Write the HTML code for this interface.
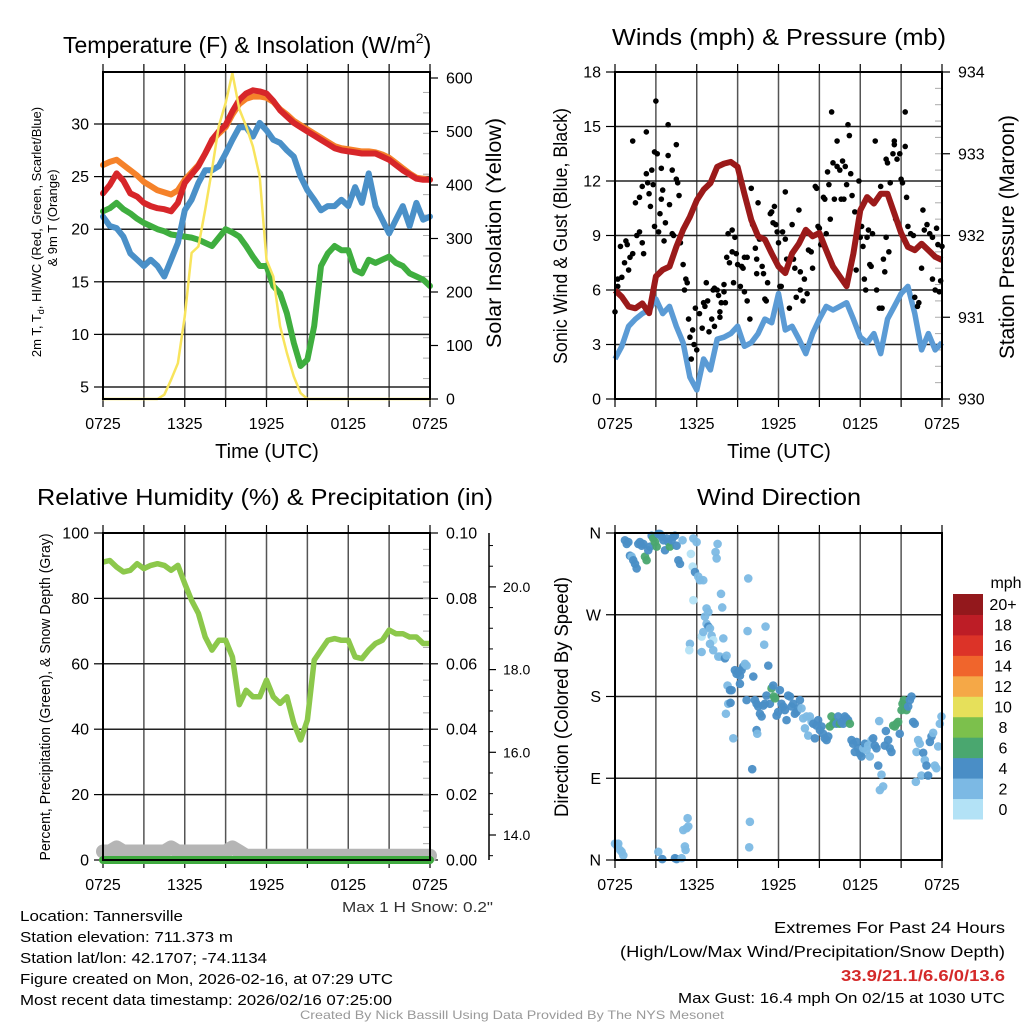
<!DOCTYPE html>
<html><head><meta charset="utf-8"><style>
html,body{margin:0;padding:0;background:#fff}
svg{display:block;font-family:"Liberation Sans",sans-serif}
</style></head><body>
<svg id="fig" width="1024" height="1024" viewBox="0 0 1024 1024" xmlns="http://www.w3.org/2000/svg">
<rect x="0" y="0" width="1024" height="1024" fill="#fff"/>
<g id="p1"></g>
<g id="p2"></g>
<g id="p3"></g>
<g id="p4"></g>
<g id="info">
<text x="20" y="921" font-size="15" textLength="163" lengthAdjust="spacingAndGlyphs">Location: Tannersville</text>
<text x="20" y="942" font-size="15" textLength="213" lengthAdjust="spacingAndGlyphs">Station elevation: 711.373 m</text>
<text x="20" y="963" font-size="15" textLength="247" lengthAdjust="spacingAndGlyphs">Station lat/lon: 42.1707; -74.1134</text>
<text x="20" y="984" font-size="15" textLength="373" lengthAdjust="spacingAndGlyphs">Figure created on Mon, 2026-02-16, at 07:29 UTC</text>
<text x="20" y="1005" font-size="15" textLength="372" lengthAdjust="spacingAndGlyphs">Most recent data timestamp: 2026/02/16 07:25:00</text>
<text x="774" y="933" font-size="16" textLength="231" lengthAdjust="spacingAndGlyphs">Extremes For Past 24 Hours</text>
<text x="620" y="957" font-size="16" textLength="385" lengthAdjust="spacingAndGlyphs">(High/Low/Max Wind/Precipitation/Snow Depth)</text>
<text x="841" y="981" font-size="16" font-weight="bold" fill="#d42a2a" textLength="164" lengthAdjust="spacingAndGlyphs">33.9/21.1/6.6/0/13.6</text>
<text x="678" y="1003" font-size="15" textLength="327" lengthAdjust="spacingAndGlyphs">Max Gust: 16.4 mph On 02/15 at 1030 UTC</text>
<text x="300" y="1019" font-size="12" fill="#999" textLength="424" lengthAdjust="spacingAndGlyphs">Created By Nick Bassill Using Data Provided By The NYS Mesonet</text>
</g>
</svg>
<script>
// ---------- data ----------
const timeLabels = ["0725","1325","1925","0125","0725"];
const hours = [0,0.5,1,1.5,2,2.5,3,3.5,4,4.5,5,5.5,6,6.5,7,7.5,8,8.5,9,9.5,10,10.5,11,11.5,12,12.5,13,13.5,14,14.5,15,15.5,16,16.5,17,17.5,18,18.5,19,19.5,20,20.5,21,21.5,22,22.5,23,23.5,24];
const tempRed = [23.4,24.2,25.3,24.6,23.4,23.1,22.5,22.2,22,21.9,21.7,22.5,24.4,25.2,26,27.2,28.5,29.3,29.9,31.2,32.3,32.9,33.2,33.1,32.9,32.2,31.3,30.7,30.1,29.7,29.3,28.9,28.5,28.1,27.7,27.5,27.4,27.3,27.2,27.2,27.2,26.9,26.6,26.1,25.6,25.2,24.8,24.7,24.7];
const temp9m = [26.1,26.4,26.6,26.1,25.6,25.1,24.5,24.1,23.7,23.5,23.3,23.7,24.7,25.4,26.1,27.2,28.4,29.1,29.7,30.9,31.9,32.4,32.6,32.6,32.5,32.1,31.4,30.9,30.3,29.9,29.5,29.1,28.7,28.3,27.9,27.7,27.6,27.5,27.4,27.4,27.3,27.1,26.8,26.3,25.8,25.3,24.9,24.8,24.7];
const tempDew = [21.2,20.3,20.1,19.3,17.7,17.1,16.5,17.1,16.5,15.5,17.1,18.7,21.8,22.8,24.4,25.6,25.6,26,27.2,28.5,29.7,29.7,28.8,30.1,29.4,28.5,28.2,27.5,26.9,25,23.7,22.8,21.8,22.2,22.2,22.8,22.2,24,22.5,25.3,22.2,20.9,19.6,20.9,22.2,20.3,22.5,20.9,21.2];
const tempHIWC = [21.7,22,22.5,21.9,21.5,21,20.6,20.3,20,19.8,19.5,19.4,19.3,19.2,19,18.7,18.4,19.2,20,19.7,19.3,18.4,17.4,16.5,16.5,14.6,13.9,12,9.2,7,7.6,10.8,16.5,17.7,18.4,18,18,16.1,15.8,17.1,16.8,17.1,17.4,16.8,16.5,15.8,15.5,15.2,14.6];
const insolation = [0,0,0,0,0,0,0,0,0,8,36,67,155,273,285,354,429,510,553,609,542,510,472,416,260,229,136,86,42,11,0,0,0,0,0,0,0,0,0,0,0,0,0,0,0,0,0,0,0];
const tempTicks = [5,10,15,20,25,30];
const solarTicks = [0,100,200,300,400,500,600];

const windSpeed = [2.2,2.9,4,4.4,4.7,4.9,5.5,4.7,5.1,4,3.1,1.2,0.5,2.2,1.6,3.3,3.4,3.6,4,2.9,3.1,3.6,4.4,4.2,5.8,3.8,4,3.3,2.5,3.6,4.4,5.1,4.9,5.1,5.3,4.4,3.4,3.1,3.6,2.5,4.4,5.1,5.8,6.2,4.7,2.7,3.6,2.7,3.1];
const pressure = [931.33,931.25,931.13,931.11,931.17,931.05,931.5,931.58,931.62,931.86,932.07,932.23,932.43,932.56,932.64,932.84,932.88,932.9,932.84,932.51,932.19,931.99,931.95,931.78,931.62,931.54,931.78,931.9,932.07,931.99,932.03,931.82,931.62,931.5,931.38,931.78,932.31,932.47,932.39,932.51,932.51,932.27,932.03,931.86,931.82,931.9,931.82,931.74,931.7];
const gusts = [[0,4.8],[0.2,6.6],[0.2,6.2],[0.4,8.4],[0.5,6.7],[0.7,7.5],[0.8,8.7],[0.9,8.5],[1.0,7.1],[1.1,7.8],[1.3,14.2],[1.3,8.0],[1.5,10.8],[1.6,9.0],[1.8,11.1],[1.8,9.2],[2,11.7],[2,8.6],[2.1,8.0],[2.3,12.4],[2.3,14.7],[2.4,11.9],[2.5,11.3],[2.6,10.6],[2.7,12.6],[2.8,11.8],[2.9,13.6],[2.9,9.5],[3.0,16.4],[3.1,13.5],[3.2,9.2],[3.3,10.2],[3.4,11.0],[3.4,12.7],[3.5,11.5],[3.6,8.7],[3.7,9.7],[3.9,13.4],[3.9,15.1],[4.0,10.7],[4.2,12.6],[4.2,9.1],[4.3,9.0],[4.5,12.1],[4.5,14.0],[4.6,11.9],[4.7,11.2],[4.8,8.6],[5,7.4],[5.1,6.0],[5.2,6.6],[5.3,6.4],[5.4,4.4],[5.5,3.4],[5.6,2.2],[5.7,3.8],[5.8,3.0],[5.9,5.0],[6.0,2.7],[6.2,4.7],[6.4,3.9],[6.5,5.3],[6.6,5.1],[6.7,6.4],[6.8,5.4],[6.9,3.7],[7.1,4.4],[7.2,6.0],[7.3,4.0],[7.3,6.1],[7.5,6.0],[7.6,5.7],[7.7,4.5],[7.7,4.8],[7.8,5.3],[8.0,6.3],[8.0,5.9],[8.1,5.3],[8.2,7.8],[8.3,9.1],[8.4,7.5],[8.6,9.3],[8.6,8.1],[8.7,6.4],[8.8,8.9],[8.9,8.0],[9.0,7.4],[9.2,6.2],[9.3,7.3],[9.4,7.2],[9.5,7.8],[9.5,5.9],[9.7,7.8],[9.7,5.4],[9.9,4.4],[10.0,11.6],[10.1,9.6],[10.3,8.3],[10.4,6.9],[10.4,7.7],[10.5,10.8],[10.6,8.8],[10.8,7.3],[10.9,6.9],[11.0,5.5],[11.1,5.4],[11.2,6.4],[11.4,10.2],[11.5,10.3],[11.6,9.7],[11.7,10.6],[11.8,9.6],[11.9,9.2],[12.0,8.6],[12.1,6.2],[12.2,6.2],[12.3,9.2],[12.5,11.4],[12.5,8.8],[12.6,7.7],[12.8,5.0],[13.0,9.6],[13.1,7.7],[13.2,7.2],[13.3,5.6],[13.5,10.4],[13.6,6.0],[13.6,7.0],[13.8,5.4],[13.9,6.6],[14.1,5.8],[14.2,8.2],[14.4,8.1],[14.5,7.2],[14.7,11.7],[14.8,11.6],[14.9,9.5],[15.0,9.4],[15.1,8.5],[15.3,11.1],[15.4,11.0],[15.5,9.1],[15.6,12.5],[15.7,11.8],[15.8,9.9],[15.9,15.8],[16.0,13.0],[16.1,11.0],[16.3,12.8],[16.3,14.2],[16.5,12.6],[16.6,11.0],[16.7,13.1],[16.8,11.0],[16.9,12.8],[17.0,11.8],[17.1,15.1],[17.2,14.5],[17.3,12.4],[17.4,11.2],[17.6,10.3],[17.7,7.1],[17.9,12.0],[18.0,8.9],[18.1,9.5],[18.2,8.4],[18.3,6.6],[18.4,6.0],[18.5,8.9],[18.6,9.3],[18.7,7.4],[18.8,7.3],[18.9,9.1],[19.1,14.2],[19.2,6.0],[19.4,5.0],[19.5,11.7],[19.6,5.0],[19.7,7.7],[19.8,7.0],[19.9,8.9],[19.9,13.2],[20.0,13.0],[20.1,8.1],[20.2,11.9],[20.4,13.5],[20.5,14.2],[20.5,14.0],[20.6,9.9],[20.7,13.2],[20.9,13.5],[21.0,12.1],[21.1,11.9],[21.3,13.9],[21.3,15.8],[21.4,11.1],[21.5,9.5],[21.7,9.1],[21.9,9.0],[22.0,5.6],[22.2,5.1],[22.3,5.3],[22.5,7.2],[22.6,10.4],[22.7,9.3],[22.9,9.6],[23.1,9.1],[23.3,8.9],[23.3,6.6],[23.5,6.0],[23.6,9.4],[23.7,8.5],[23.8,5.9],[23.9,6.5],[24.0,8.4]];
const windTicks = [0,3,6,9,12,15,18];
const pressTicks = [930,931,932,933,934];

const relHum = [91.1,91.6,89.6,88.1,88.6,90.6,89.1,90.1,90.6,90.1,88.6,90.1,84.5,79.4,75.4,68.2,64.2,67.2,67.2,62.1,47.5,51.9,49.9,49.9,55,49.9,47.9,49.9,41.8,36.7,42.8,61.1,64.2,67.2,67.7,67.2,67.2,62.1,61.6,64.2,66.2,67.2,70.3,69.2,69.2,68.2,68.2,66.2,66.2];
const precip = [0,0,0,0,0,0,0,0,0,0,0,0,0,0,0,0,0,0,0,0,0,0,0,0,0,0,0,0,0,0,0,0,0,0,0,0,0,0,0,0,0,0,0,0,0,0,0,0,0];
const snowDepth = [13.6,13.6,13.7,13.6,13.6,13.6,13.6,13.6,13.6,13.6,13.7,13.6,13.6,13.6,13.6,13.6,13.6,13.6,13.6,13.7,13.6,13.5,13.5,13.5,13.5,13.5,13.5,13.5,13.5,13.5,13.5,13.5,13.5,13.5,13.5,13.5,13.5,13.5,13.5,13.5,13.5,13.5,13.5,13.5,13.5,13.5,13.5,13.5,13.5];
const rhTicks = [0,20,40,60,80,100];
const precipTicks = ["0.00","0.02","0.04","0.06","0.08","0.10"];
const snowTicks = [14,16,18,20];

const dirObs = [[0.73,352,5],[0.86,348,5],[0.98,350,5],[1.10,335,5],[1.22,334,3],[1.34,330,5],[1.47,326,5],[1.59,321,5],[1.71,348,5],[1.83,350,5],[1.96,346,5],[2.08,348,5],[2.20,334,7],[2.32,330,7],[2.44,341,5],[2.57,345,5],[2.69,357,5],[2.81,354,7],[2.93,350,7],[3.06,345,7],[3.18,359,5],[3.30,359,5],[3.42,356,5],[3.55,352,5],[3.67,341,5],[3.79,354,5],[3.91,350,5],[4.03,345,7],[4.16,352,5],[4.28,356,5],[4.40,357,5],[4.52,346,5],[4.65,330,5],[4.77,326,5],[4.96,352,3],[5.57,337,1],[5.70,323,1],[5.75,354,3],[5.87,317,5],[5.99,350,3],[6.11,312,3],[6.23,308,3],[5.75,286,1],[6.48,308,3],[6.72,277,3],[6.85,273,3],[6.60,268,3],[6.72,260,3],[6.85,257,5],[6.97,255,3],[6.36,246,1],[6.48,251,3],[7.09,247,3],[7.21,242,1],[5.50,238,3],[5.45,231,1],[6.36,229,3],[6.97,238,3],[7.21,231,3],[7.58,224,3],[7.70,224,3],[7.95,244,3],[8.07,222,5],[8.19,225,3],[7.38,339,3],[7.46,332,3],[7.53,348,3],[7.78,293,3],[7.87,278,3],[8.26,192,3],[8.44,187,5],[8.56,187,5],[8.31,172,3],[8.48,173,5],[8.14,161,3],[8.68,134,3],[8.80,209,5],[8.92,205,5],[9.05,207,5],[9.17,203,5],[9.29,209,5],[9.41,213,5],[9.54,216,3],[9.66,214,3],[9.17,194,5],[9.78,310,3],[9.73,252,3],[9.66,176,5],[10.15,202,5],[10.27,176,5],[10.39,172,5],[10.51,169,5],[10.64,161,5],[10.76,158,5],[10.88,170,5],[11.00,172,5],[10.39,143,5],[10.44,139,3],[10.95,237,3],[11.05,257,3],[11.25,214,5],[11.12,181,5],[11.37,172,5],[11.49,189,7],[11.61,192,5],[11.66,180,7],[11.74,178,7],[11.86,159,5],[11.98,163,5],[12.10,187,5],[12.22,172,5],[12.35,169,5],[12.47,165,5],[12.59,154,5],[12.71,181,5],[12.84,180,5],[12.96,169,5],[13.08,172,5],[13.20,161,5],[13.33,163,5],[13.45,167,5],[13.57,176,5],[13.69,167,3],[13.81,156,3],[13.94,145,3],[14.06,158,3],[14.18,137,3],[14.30,158,3],[14.43,152,3],[14.55,150,5],[14.67,134,5],[14.79,148,5],[14.91,154,5],[15.04,143,5],[15.16,147,5],[15.28,139,5],[15.40,134,5],[15.53,132,5],[15.65,136,5],[15.77,147,7],[15.89,158,7],[16.01,150,7],[16.14,152,7],[16.26,150,5],[16.38,158,5],[16.50,150,7],[16.63,152,5],[16.75,150,5],[16.87,158,5],[16.99,156,5],[17.11,154,5],[17.24,150,7],[17.36,132,5],[17.48,128,5],[17.60,119,5],[17.73,130,5],[17.85,123,5],[17.97,117,5],[18.09,114,5],[18.22,123,3],[18.34,128,5],[18.46,121,3],[18.58,126,3],[18.70,114,3],[18.83,132,3],[18.95,134,5],[19.07,126,5],[19.19,123,5],[19.32,104,5],[19.39,153,3],[19.56,94,3],[19.44,77,3],[19.68,81,3],[19.80,126,5],[19.88,142,5],[20.05,132,5],[20.17,123,5],[20.29,119,5],[20.42,148,7],[20.54,147,7],[20.66,150,7],[20.78,152,7],[20.90,139,5],[21.03,165,7],[21.10,172,7],[21.20,176,7],[21.27,169,7],[21.39,165,7],[21.52,169,5],[21.64,176,5],[21.76,180,5],[21.88,152,5],[22.00,150,5],[22.08,86,3],[22.13,119,3],[22.25,132,3],[22.37,128,3],[22.49,93,3],[22.62,118,5],[22.74,110,3],[22.86,104,5],[22.98,93,5],[23.11,130,5],[23.23,136,5],[23.35,140,3],[23.47,104,3],[23.59,101,3],[23.72,125,3],[23.84,150,3],[23.96,158,3],[0,18,3],[0.12,16,3],[0.24,18,3],[0.37,11,3],[0.49,9,3],[0.61,5,3],[3.18,9,3],[3.47,1,5],[4.40,2,5],[4.52,1,5],[4.89,2,3],[5.01,33,3],[5.13,15,3],[5.18,11,3],[5.26,35,3],[5.38,37,3],[5.33,46,3],[9.90,42,3],[9.85,14,3],[10.07,100,5]];
const dirTicks = ["N","E","S","W","N"];
const speedBins = ["0","2","4","6","8","10","12","14","16","18","20+"];
const speedColors = ["#b3e2f6","#7cb9e4","#4a8ec6","#4aa76f","#7cc04c","#e6e05a","#f5a847","#f0652c","#dc3328","#bd1d26","#93181c"];

// ---------- helpers ----------
const NS="http://www.w3.org/2000/svg";
function mk(parent, tag, attrs, txt){
  const el=document.createElementNS(NS,tag);
  for(const k in attrs) el.setAttribute(k,attrs[k]);
  if(txt!==undefined) el.textContent=txt;
  parent.appendChild(el); return el;
}
function lin(d0,d1,r0,r1){return v=>r0+(v-d0)*(r1-r0)/(d1-d0);}
function pathD(xs,ys,sx,sy){return xs.map((h,i)=>(i?"L":"M")+sx(h).toFixed(1)+" "+sy(ys[i]).toFixed(1)).join(" ");}

function frame(g, L, R, T, B, leftTicks, ly, leftFmt){
  const sx=lin(0,24,L,R);
  for(let h=3;h<24;h+=3){
    const gl=mk(g,"line",{x1:sx(h),x2:sx(h),y1:T,y2:B,stroke:"#555","stroke-width":1.5});
    
    
  }
  for(let h=0;h<=24;h+=3){
    const tk=mk(g,"line",{x1:sx(h),x2:sx(h),y1:T-8,y2:T,stroke:"#000","stroke-width":1.2});
    
    
    const tb=mk(g,"line",{x1:sx(h),x2:sx(h),y1:B,y2:B+8,stroke:"#000","stroke-width":1.2});
    
    
  }
  timeLabels.forEach((t,i)=>{
    const tl=mk(g,"text",{x:sx(i*6),y:B+30,"font-size":16,"text-anchor":"middle"},t);
    
    
  });
  leftTicks.forEach((v,i)=>{
    const y=ly(v);
    if(y>T+1 && y<B-1){
      const gh=mk(g,"line",{x1:L,x2:R,y1:y,y2:y,stroke:"#222","stroke-width":1.5});
      
      
    }
    const lt=mk(g,"line",{x1:L-9,x2:L,y1:y,y2:y,stroke:"#000","stroke-width":1.2});
    
    
    const tx=mk(g,"text",{x:L-14,y:y+5.5,"font-size":16,"text-anchor":"end"},leftFmt?leftFmt(v,i):v);
    
    
  });
  return sx;
}
function box(g,L,R,T,B){
  const b=mk(g,"rect",{x:L,y:T,width:R-L,height:B-T,fill:"none",stroke:"#000","stroke-width":2});
  
  
}
function rightAxis(g,R,T,B,ticks,ry,fmt,minor){
  ticks.forEach(v=>{
    const y=ry(v);
    const t=mk(g,"line",{x1:R,x2:R+8,y1:y,y2:y,stroke:"#000","stroke-width":1.2});
    
    
    const tx=mk(g,"text",{x:R+16,y:y+5.5,"font-size":16},fmt?fmt(v):v);
    
    
  });
  for(let i=1;i<minor;i++){
    const y=T+(B-T)*i/minor;
    const m=mk(g,"line",{x1:R-7,x2:R,y1:y,y2:y,stroke:"#aaa","stroke-width":1});
    
    
  }
}
function title(g,txt,x,y,len,size){
  return mk(g,"text",{x:x,y:y,"font-size":size||23,textLength:len,lengthAdjust:"spacingAndGlyphs"},txt);
}
function vtitle(g,txt,cx,cy,size,len){
  const a={x:0,y:0,"font-size":size,"text-anchor":"middle",transform:`translate(${cx},${cy}) rotate(-90)`};
  if(len){a.textLength=len;a.lengthAdjust="spacingAndGlyphs";}
  return mk(g,"text",a,txt);
}

// ---------- panel 1 ----------
(function(){
  const g=document.getElementById("p1");
  const L=103,R=430,T=72,B=399;
  const ly=lin(5,30,387,124);
  const sy=lin(0,600,399,78);
  const sx=frame(g,L,R,T,B,tempTicks,ly);
  rightAxis(g,R,T,B,solarTicks,sy,null,16);
  const series=[[tempHIWC,"#3fae3f",6,"hiwc-line",ly],[tempDew,"#4a90c8",6,"dewpoint-line",ly],[temp9m,"#f5822a",6,"temp-9m-line",ly],[tempRed,"#d7262a",6,"temp-2m-line",ly],[insolation,"#f8e45c",2.5,"insolation-line",sy]];
  series.forEach(s=>{
    const p=mk(g,"path",{d:pathD(hours,s[0],sx,s[4]),fill:"none",stroke:s[1],"stroke-width":s[2],"stroke-linejoin":"round","stroke-linecap":"round"});
    
    
  });
  box(g,L,R,T,B);
  const t1=mk(g,"text",{x:63,y:53,"font-size":23});
  t1.innerHTML='Temperature (F) &amp; Insolation (W/m<tspan font-size="14" dy="-10">2</tspan><tspan dy="10">)</tspan>';
  
  
  const xt=mk(g,"text",{x:267,y:458,"font-size":20,"text-anchor":"middle"},"Time (UTC)");
  
  
  const yt=mk(g,"text",{x:0,y:0,"font-size":13,"text-anchor":"middle",transform:"translate(41,232) rotate(-90)"});
  yt.innerHTML='2m T, T<tspan font-size="9" dy="3">d</tspan><tspan dy="-3">, HI/WC (Red, Green, Scarlet/Blue)</tspan>';
  
  
  const yt2=vtitle(g,"& 9m T (Orange)",57,218,13);
  
  
  const rt=vtitle(g,"Solar Insolation (Yellow)",501,233,21,230);
  
  
})();

// ---------- panel 2 ----------
(function(){
  const g=document.getElementById("p2");
  const L=615,R=942,T=72,B=399;
  const wy=lin(0,18,399,72);
  const py=lin(930,934,399,72);
  const sx=frame(g,L,R,T,B,windTicks,wy);
  rightAxis(g,R,T,B,pressTicks,py,null,20);
  const wp=mk(g,"path",{d:pathD(hours,windSpeed,sx,wy),fill:"none",stroke:"#5b9bd5","stroke-width":5.5,"stroke-linejoin":"round"});
  
  
  gusts.forEach(d=>{
    const c=mk(g,"circle",{cx:sx(d[0]),cy:wy(d[1]),r:2.8,fill:"#000"});
    
    
  });
  const pp=mk(g,"path",{d:pathD(hours,pressure,sx,py),fill:"none",stroke:"#9b1a1a","stroke-width":6,"stroke-linejoin":"round"});
  
  
  box(g,L,R,T,B);
  const t=title(g,"Winds (mph) & Pressure (mb)",612,45,334,23);
  
  
  const xt=mk(g,"text",{x:779,y:458,"font-size":20,"text-anchor":"middle"},"Time (UTC)");
  
  
  const yt=vtitle(g,"Sonic Wind & Gust (Blue, Black)",567,236,19,256);
  
  
  const rt=vtitle(g,"Station Pressure (Maroon)",1014,237,21,244);
  
  
})();

// ---------- panel 3 ----------
(function(){
  const g=document.getElementById("p3");
  const L=103,R=430,T=533,B=860;
  const ry=lin(0,100,860,533);
  const pry=lin(0,0.1,860,533);
  const sny=lin(14,16,835,752.3);
  const sx=frame(g,L,R,T,B,rhTicks,ry);
  rightAxis(g,R,T,B,precipTicks.map(Number),pry,v=>v.toFixed(2),20);
  const ax=mk(g,"line",{x1:489,x2:489,y1:533,y2:860,stroke:"#000","stroke-width":1.5});
  
  
  snowTicks.forEach(v=>{
    const y=sny(v);
    const t=mk(g,"line",{x1:489,x2:496,y1:y,y2:y,stroke:"#000","stroke-width":1.2});
    
    
    const tx=mk(g,"text",{x:503,y:y+5,"font-size":14},v.toFixed(1));
    
    
  });
  for(let v=13.5;v<21.5;v+=0.5){ if(Math.abs(v-Math.round(v/2)*2)<0.01) continue;
    const y=sny(v); if(y<T||y>B) continue;
    const m=mk(g,"line",{x1:489,x2:493,y1:y,y2:y,stroke:"#000","stroke-width":1});
    
    
  }
  const sp=mk(g,"path",{d:pathD(hours,snowDepth,sx,sny),fill:"none",stroke:"#b5b5b5","stroke-width":14,"stroke-linejoin":"round","stroke-linecap":"round"});
  
  
  const rp=mk(g,"path",{d:pathD(hours,relHum,sx,ry),fill:"none",stroke:"#8cc84b","stroke-width":5.5,"stroke-linejoin":"round"});
  
  
  const pp=mk(g,"path",{d:pathD(hours,precip,sx,pry),fill:"none",stroke:"#3faa3f","stroke-width":8,"stroke-linecap":"round"});
  
  
  box(g,L,R,T,B);
  const t=title(g,"Relative Humidity (%) & Precipitation (in)",37,505,456,23);
  
  
  const yt=vtitle(g,"Percent, Precipitation (Green), & Snow Depth (Gray)",50,697,15,327);
  
  
  const ms=mk(g,"text",{x:342,y:912,"font-size":15,fill:"#333",textLength:151,lengthAdjust:"spacingAndGlyphs"},"Max 1 H Snow: 0.2\"");
  
  
})();

// ---------- panel 4 ----------
(function(){
  const g=document.getElementById("p4");
  const L=615,R=942,T=533,B=860;
  const dy=lin(0,360,860,533);
  const sx=frame(g,L,R,T,B,[0,90,180,270,360],dy,(v,i)=>dirTicks[i]);
  function colorFor(s){let i=Math.floor(s/2); if(i>10)i=10; if(i<0)i=0; return speedColors[i];}
  dirObs.forEach(d=>{
    const c=mk(g,"circle",{cx:sx(d[0]),cy:dy(d[1]),r:4.3,fill:colorFor(d[2]),"fill-opacity":0.95});
    
    
  });
  box(g,L,R,T,B);
  const t=title(g,"Wind Direction",697,505,164,23);
  
  
  const yt=vtitle(g,"Direction (Colored By Speed)",568,697,19,240);
  
  
  const cbT=594,cbB=819,cbX=953,cbW=30, n=speedBins.length, bh=(cbB-cbT)/n;
  speedBins.forEach((lab,i)=>{
    const y=cbB-(i+1)*bh;
    const r=mk(g,"rect",{x:cbX,y:y,width:cbW,height:bh+0.5,fill:speedColors[i]});
    
    
    const tx=mk(g,"text",{x:1003,y:y+bh/2+6,"font-size":16,"text-anchor":"middle"},lab);
    
    
  });
  const u=mk(g,"text",{x:1006,y:588,"font-size":16,"text-anchor":"middle"},"mph");
  
  
})();
</script>
</body></html>
